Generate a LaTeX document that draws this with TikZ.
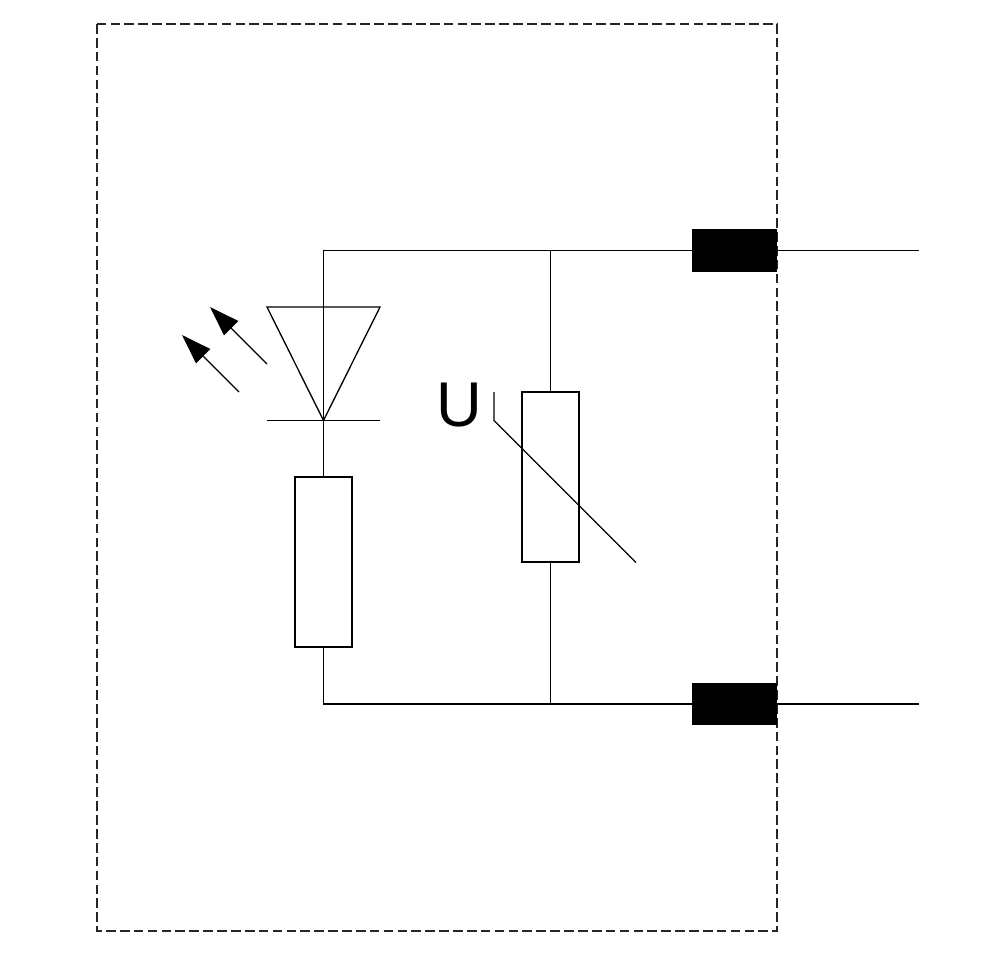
\documentclass[tikz,border=0pt]{standalone}
\usepackage{fontspec}
\setmainfont{Liberation Sans}
\usetikzlibrary{arrows.meta}
\tikzset{wire/.style={draw,line width=0.75pt}}
\tikzset{resistor/.style={draw,line width=0.7pt,minimum width=1.14cm,minimum height=3.4cm,inner sep=0pt,fill=white}}
\tikzset{terminal/.style={fill=black,minimum width=1.7cm,minimum height=0.85cm,inner sep=0pt}}
\tikzset{lightray/.style={draw,line width=0.75pt,-{Stealth[length=0.6cm,width=0.4cm,inset=0pt]}}}
\begin{document}
\begin{tikzpicture}[x=0.02cm,y=-0.02cm]
    \useasboundingbox (0,0) rectangle (1000,960);
    \coordinate (frameNW) at (97,24);
    \coordinate (frameSE) at (777,931);
    \draw[line width=0.6pt,black!85,dash pattern=on 5.5pt off 2.4pt] (frameNW) rectangle (frameSE);
    % terminals and free wire ends
    \node[terminal] (termT) at (734.5,250.5) {};
    \node[terminal] (termB) at (734.5,704) {};
    \coordinate (outT) at (919,250.5);
    \coordinate (outB) at (919,704);
    \coordinate (cornerT) at (323.5,250.5);
    \coordinate (cornerB) at (323.5,704);
    \coordinate (joinT) at (550.5,250.5);
    \coordinate (joinB) at (550.5,704);
    % components
    \node[resistor] (resL) at (323.5,562) {};
    \node[resistor] (resV) at (550.5,477) {};
    \coordinate (triL) at (267,307);
    \coordinate (triR) at (380,307);
    \coordinate (tip) at (323.5,420.5);
    \coordinate (barL) at (267,420.5);
    \coordinate (barR) at (380,420.5);
    % wiring
    \path[wire] (termT.west) -- (cornerT) -- (tip) -- (resL.north);
    \path[wire] (resL.south) -- (cornerB) -- (termB.west);
    \path[wire] (joinT) -- (resV.north);
    \path[wire] (resV.south) -- (joinB);
    \path[wire] (termT.east) -- (outT);
    \path[wire] (termB.east) -- (outB);
    % led
    \path[wire] (triL) -- (triR) -- (tip) -- cycle;
    \path[wire] (barL) -- (barR);
    \coordinate (rayAs) at (267,364);
    \coordinate (rayAe) at (210,307);
    \coordinate (rayBs) at (239,392);
    \coordinate (rayBe) at (182,335);
    \path[lightray] (rayAs) -- (rayAe);
    \path[lightray] (rayBs) -- (rayBe);
    % varistor
    \coordinate (slashA) at (494,392);
    \coordinate (slashB) at (494,420.5);
    \coordinate (slashC) at (636,562.5);
    \path[wire] (slashA) -- (slashB) -- (slashC);
    \node[font=\fontsize{36pt}{36pt}\selectfont,inner sep=0pt] (labelU) at (459,405.5) {U};
\end{tikzpicture}
\end{document}
